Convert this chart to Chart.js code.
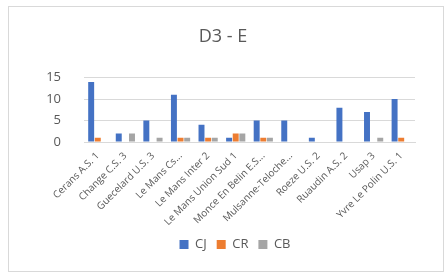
<!DOCTYPE html>
<html>
<head>
<meta charset="utf-8">
<script src="https://cdn.jsdelivr.net/npm/chart.js@4/dist/chart.umd.min.js"></script>
<style>
    html, body { margin: 0; padding: 0; background: #fff; }
    #frame {
        position: absolute;
        left: 8px;
        top: 6px;
        width: 436px;
        height: 266px;
        border: 1px solid #d9d9d9;
        box-sizing: border-box;
    }
    canvas { display: block; }
</style>
</head>
<body>
<div id="frame"><canvas id="teamChart" width="434" height="264"></canvas></div>
<script>
const categories = [
    'Cerans A.S. 1', 'Change C.S. 3', 'Guecelard U.S. 3', 'Le Mans Cs...',
    'Le Mans Inter 2', 'Le Mans Union Sud 1', 'Monce En Belin E.S...',
    'Mulsanne-Teloche...', 'Roeze U.S. 2', 'Ruaudin A.S. 2', 'Usap 3',
    'Yvre Le Polin U.S. 1'
];
const cjValues = [14, 2, 5, 11, 4, 1, 5, 5, 1, 8, 7, 10];
const crValues = [1, 0, 0, 1, 1, 2, 1, 0, 0, 0, 0, 1];
const cbValues = [0, 2, 1, 1, 1, 2, 1, 0, 0, 0, 1, 0];
const yTicks = [0, 5, 10, 15];

const colors = {
    cj: '#4472c4',
    cr: '#ed7d31',
    cb: '#a5a5a5',
    text: '#595959',
    grid: '#d9d9d9'
};

const fontFamily = '"Open Sans", "Liberation Sans", sans-serif';

function makeDataset(label, data, color) {
    return {
        label: label,
        data: data,
        backgroundColor: color,
        borderWidth: 0,
        barPercentage: 0.9,
        categoryPercentage: 0.72
    };
}

// excel centres title and legend a bit further right than chart.js does
const nudgeBlocks = {
    id: 'nudgeBlocks',
    afterLayout(chart) {
        chart.titleBlock.left += 7;
        chart.titleBlock.right += 7;
        chart.legend.left += 19;
        chart.legend.right += 19;
    }
};

new Chart(document.getElementById('teamChart'), {
    type: 'bar',
    data: {
        labels: categories,
        datasets: [
            makeDataset('CJ', cjValues, colors.cj),
            makeDataset('CR', crValues, colors.cr),
            makeDataset('CB', cbValues, colors.cb)
        ]
    },
    options: {
        responsive: false,
        animation: false,
        layout: { padding: { top: 12, right: 28, left: 8, bottom: 10 } },
        plugins: {
            title: {
                display: true,
                text: 'D3 - E',
                color: colors.text,
                font: { family: fontFamily, size: 18, weight: 'normal' },
                padding: { top: 7, bottom: 30 }
            },
            legend: {
                position: 'bottom',
                labels: {
                    color: colors.text,
                    font: { family: fontFamily, size: 13 },
                    boxWidth: 9,
                    boxHeight: 9,
                    padding: 10
                }
            },
            tooltip: { enabled: false }
        },
        scales: {
            x: {
                grid: { display: false },
                border: { color: colors.grid },
                afterFit: axis => { axis.height = 86; },
                ticks: {
                    color: colors.text,
                    font: { family: fontFamily, size: 10 },
                    maxRotation: 45,
                    minRotation: 45,
                    autoSkip: false,
                    padding: 0
                }
            },
            y: {
                min: 0,
                max: 15,
                afterBuildTicks: axis => {
                    axis.ticks = yTicks.map(v => ({ value: v }));
                },
                afterFit: axis => { axis.width = 67; },
                grid: { color: colors.grid, drawTicks: false },
                border: { display: false },
                ticks: {
                    color: colors.text,
                    font: { family: fontFamily, size: 13 },
                    padding: 23
                }
            }
        }
    },
    plugins: [nudgeBlocks]
});
</script>
</body>
</html>
